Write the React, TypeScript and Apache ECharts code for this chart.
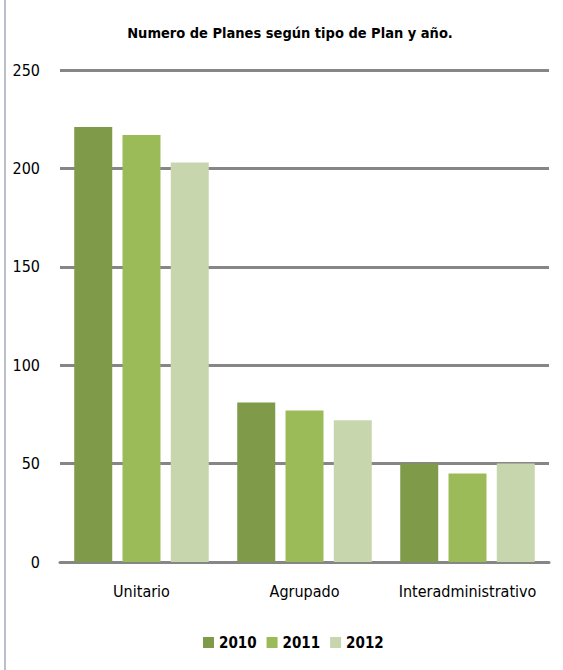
import React, { useEffect, useRef } from "react";
import * as echarts from "echarts";

const categories = ["Unitario", "Agrupado", "Interadministrativo"];
const seriesNames = ["2010", "2011", "2012"];
const values2010 = [221, 81, 50];
const values2011 = [217, 77, 45];
const values2012 = [203, 72, 50];
const colors = ["#7f9a48", "#9bbb59", "#c8d6ae"];
const yTicks = { min: 0, max: 250, interval: 50 };

const FONT = "'DejaVu Sans Condensed', 'DejaVu Sans', sans-serif";

export default function App() {
  const ref = useRef<HTMLDivElement>(null);
  useEffect(() => {
    if (!ref.current) return;
    const chart = echarts.init(ref.current, undefined, { renderer: "svg" });
    const data = [values2010, values2011, values2012];
    chart.setOption({
      animation: false,
      backgroundColor: "#ffffff",
      title: {
        text: "Numero de Planes según tipo de Plan y año.",
        left: 285,
        textAlign: "center",
        top: 20,
        textStyle: { fontFamily: FONT, fontWeight: "bold", fontSize: 14.5, color: "#000" },
      },
      graphic: [
        {
          type: "line",
          shape: { x1: 5, y1: 0, x2: 5, y2: 670 },
          style: { stroke: "#b9c0c9", lineWidth: 2 },
        },
      ],
      legend: {
        data: seriesNames,
        bottom: 15,
        left: 198,
        itemWidth: 11,
        itemHeight: 11,
        itemGap: 10,
        icon: "rect",
        textStyle: { fontFamily: FONT, fontWeight: "bold", fontSize: 15, color: "#000" },
      },
      grid: { left: 60, right: 14, top: 70, bottom: 108, containLabel: false },
      xAxis: {
        type: "category",
        data: categories,
        axisTick: { show: false },
        axisLine: { lineStyle: { color: "#868686", width: 3 } },
        axisLabel: { fontFamily: FONT, fontSize: 16, color: "#000", margin: 21, interval: 0 },
      },
      yAxis: {
        type: "value",
        min: yTicks.min,
        max: yTicks.max,
        interval: yTicks.interval,
        axisLine: { show: false },
        axisTick: { show: false },
        axisLabel: { fontFamily: FONT, fontSize: 16, color: "#000", margin: 20 },
        splitLine: { lineStyle: { color: "#868686", width: 3 } },
      },
      series: seriesNames.map((name, i) => ({
        name,
        type: "bar",
        data: data[i],
        barWidth: 38,
        barGap: "27%",
        itemStyle: { color: colors[i] },
      })),
    });
    return () => chart.dispose();
  }, []);
  return (
    <div
      ref={ref}
      style={{ position: "absolute", left: 0, top: 0, width: 563, height: 670 }}
    />
  );
}
